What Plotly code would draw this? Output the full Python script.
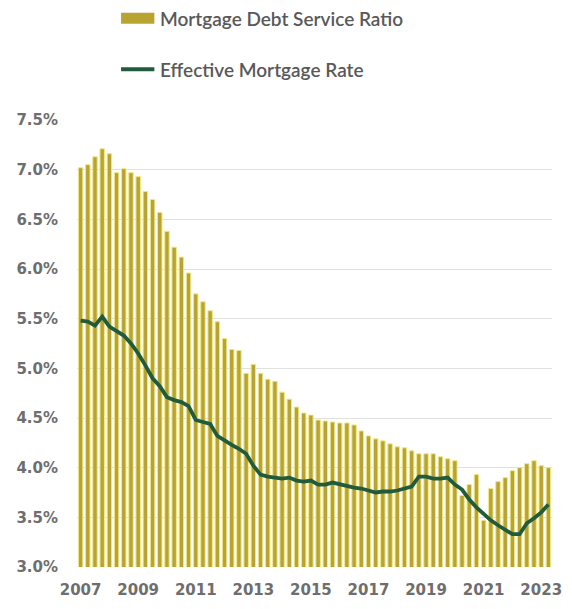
import plotly.graph_objects as go

quarters = [f"{y}Q{q}" for y in range(2007, 2024) for q in range(1, 5)][:66]

debt_service_ratio = [
    7.02, 7.05, 7.13, 7.21, 7.16, 6.97, 7.01, 6.97, 6.93, 6.78,
    6.70, 6.57, 6.38, 6.22, 6.12, 5.96, 5.75, 5.67, 5.58, 5.47,
    5.30, 5.19, 5.18, 4.95, 5.04, 4.95, 4.89, 4.87, 4.76, 4.69,
    4.61, 4.55, 4.53, 4.48, 4.47, 4.46, 4.45, 4.45, 4.43, 4.37,
    4.32, 4.29, 4.27, 4.24, 4.21, 4.20, 4.17, 4.14, 4.14, 4.14,
    4.11, 4.09, 4.07, 3.72, 3.83, 3.93, 3.47, 3.79, 3.86, 3.90,
    3.97, 4.00, 4.04, 4.07, 4.02, 4.00,
]

effective_rate = [
    5.48, 5.47, 5.43, 5.52, 5.42, 5.38, 5.33, 5.25, 5.15, 5.03,
    4.90, 4.82, 4.71, 4.68, 4.66, 4.62, 4.48, 4.46, 4.44, 4.32,
    4.27, 4.23, 4.19, 4.14, 4.02, 3.93, 3.91, 3.90, 3.89, 3.90,
    3.87, 3.86, 3.87, 3.83, 3.83, 3.85, 3.83, 3.82, 3.80, 3.79,
    3.77, 3.75, 3.76, 3.76, 3.77, 3.79, 3.81, 3.91, 3.91, 3.89,
    3.89, 3.90, 3.83, 3.78, 3.68, 3.60, 3.53, 3.47, 3.42, 3.38,
    3.33, 3.33, 3.44, 3.49, 3.55, 3.63,
]

tick_quarters = [f"{y}Q1" for y in range(2007, 2024, 2)]
tick_labels = [str(y) for y in range(2007, 2024, 2)]
y_ticks = [3.0, 3.5, 4.0, 4.5, 5.0, 5.5, 6.0, 6.5, 7.0, 7.5]
y_tick_labels = [f"{v:.1f}%" for v in y_ticks]

BAR = "#B9A431"
LINE = "#1F5B3C"
TXT = "#6E6E6E"

fig = go.Figure()
fig.add_trace(go.Bar(
    x=quarters, y=debt_service_ratio, name="Mortgage Debt Service Ratio",
    marker=dict(color=BAR, line=dict(color="#F0E88A", width=1)),
    showlegend=False,
))
fig.add_trace(go.Scatter(
    x=quarters, y=effective_rate, name="Effective Mortgage Rate",
    mode="lines", line=dict(color=LINE, width=3.8),
    showlegend=False,
))

W, H = 572, 609
L, R, T, B = 77, 10, 120, 39
pw, ph = W - L - R, H - T - B

def px(x):
    return (x - L) / pw

def py(y):
    return (H - B - y) / ph

# custom legend
fig.add_shape(type="rect", xref="paper", yref="paper",
              x0=px(122), x1=px(156), y0=py(23), y1=py(12),
              fillcolor=BAR, line=dict(width=0))
fig.add_shape(type="line", xref="paper", yref="paper",
              x0=px(122), x1=px(156), y0=py(69), y1=py(69),
              line=dict(color=LINE, width=4))
fig.add_annotation(xref="paper", yref="paper", x=px(160), y=py(18),
                   text="Mortgage Debt Service Ratio", showarrow=False,
                   xanchor="left", yanchor="middle",
                   font=dict(family="Lato", size=19, color="#595959", weight=600))
fig.add_annotation(xref="paper", yref="paper", x=px(160), y=py(69),
                   text="Effective Mortgage Rate", showarrow=False,
                   xanchor="left", yanchor="middle",
                   font=dict(family="Lato", size=19, color="#595959", weight=600))

fig.update_layout(
    width=W, height=H,
    margin=dict(l=L, r=R, t=T, b=B),
    paper_bgcolor="white", plot_bgcolor="white",
    bargap=0.38,
    xaxis=dict(
        type="category", tickmode="array", tickvals=tick_quarters, ticktext=tick_labels,
        showgrid=False, showline=False, ticks="", range=[-0.5, 65.5],
        tickfont=dict(family="DejaVu Sans", size=15, color=TXT, weight="bold"),
        ticklabelstandoff=12,
    ),
    yaxis=dict(
        range=[3.0, 7.5], tickmode="array", tickvals=y_ticks, ticktext=y_tick_labels,
        showgrid=True, gridcolor="#E0E0E0", gridwidth=1,
        zeroline=False, showline=False, ticks="",
        tickfont=dict(family="DejaVu Sans", size=15, color=TXT, weight="bold"),
        ticklabelstandoff=18,
    ),
)

fig.write_html("out.html")
